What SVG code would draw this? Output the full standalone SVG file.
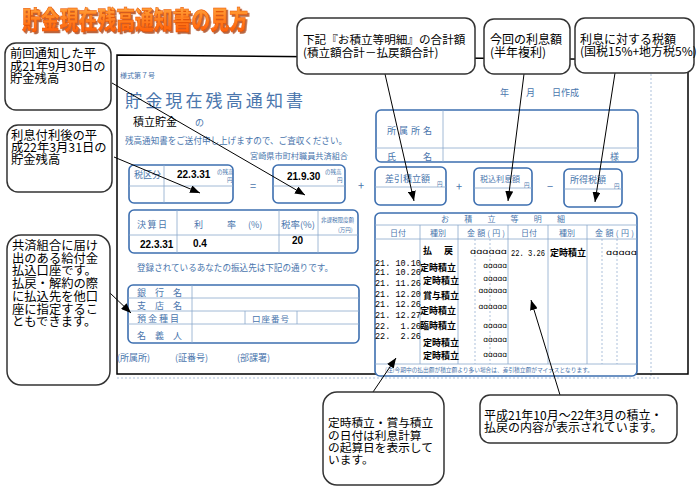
<svg xmlns="http://www.w3.org/2000/svg" width="700" height="489" viewBox="0 0 700 489">
<defs>
  <linearGradient id="tg" x1="0" y1="0" x2="0" y2="1">
    <stop offset="0" stop-color="#ffb347"/>
    <stop offset="1" stop-color="#ff5500"/>
  </linearGradient>
  <filter id="sh" x="-5%" y="-20%" width="115%" height="150%">
    <feDropShadow dx="1.8" dy="2" stdDeviation="0.6" flood-color="#a03000" flood-opacity="0.75"/>
  </filter>
  <marker id="ah" viewBox="0 0 10 8" refX="10" refY="4" markerWidth="10" markerHeight="8" markerUnits="userSpaceOnUse" orient="auto">
    <path d="M0,0 L10,4 L0,8 z" fill="#000"/>
  </marker>
</defs>
<style>
  .jp { font-family: "Noto Sans CJK JP", "Noto Sans", sans-serif; }
  .co rect { fill: #fff; stroke: #333; stroke-width: 1.5; }
  .co text { font-family: "Noto Sans CJK JP", sans-serif; font-size: 12.3px; fill: #000; }
  .fb { fill: #fff; stroke: #3d6fb0; stroke-width: 1.6; }
  .fl { stroke: #8aa8cc; stroke-width: 0.8; fill: none; }
  .fd { stroke: #8aa8cc; stroke-width: 0.7; stroke-dasharray: 2 2; fill: none; }
  .ft { font-family: "Noto Sans CJK JP", sans-serif; fill: #4a76ad; }
  .bk { font-family: "Liberation Sans", Arial, sans-serif; font-weight: bold; fill: #000; }
  .dk { font-family: "Noto Sans CJK JP", sans-serif; fill: #000; font-size: 9px; font-weight: bold; }
  .mn { font-family: "Liberation Mono", monospace; fill: #000; font-size: 8.5px; white-space: pre; }
  .am { font-family: "DejaVu Sans", sans-serif; fill: #000; font-size: 7.5px; }
  .cn line { stroke: #000; stroke-width: 1; marker-end: url(#ah); }
</style>

<!-- title -->
<g id="title">
  <text x="22" y="29" class="jp" font-size="25" font-weight="900" fill="url(#tg)" stroke="#e85000" stroke-width="0.5" filter="url(#sh)" textLength="226" lengthAdjust="spacingAndGlyphs">貯金現在残高通知書の見方</text>
</g>

<!-- form -->
<g id="form">
  <line x1="651" y1="62" x2="651" y2="377" class="fd"/>
  <line x1="117" y1="378" x2="660" y2="378" class="fd"/>
  <path d="M117,55 L688,60 L688,374 L117,374 Z" fill="none" stroke="#000" stroke-width="1.5"/>

  <text x="120" y="78" class="ft" font-size="7">様式第７号</text>
  <text x="125" y="107" class="ft" font-size="17" fill="#3a6aa8" textLength="178" lengthAdjust="spacing">貯金現在残高通知書</text>
  <text x="133" y="126" class="jp" font-size="11" fill="#000">積立貯金</text>
  <text x="195" y="126" class="ft" font-size="9">の</text>
  <text x="125" y="144" class="ft" font-size="9" textLength="222" lengthAdjust="spacingAndGlyphs">残高通知書をご送付申し上げますので、ご査収ください。</text>
  <text x="250" y="159" class="ft" font-size="8" textLength="98" lengthAdjust="spacingAndGlyphs">宮崎県市町村職員共済組合</text>
  <text x="500" y="96" class="ft" font-size="9">年</text>
  <text x="526" y="96" class="ft" font-size="9">月</text>
  <text x="552" y="96" class="ft" font-size="9">日作成</text>

  <g id="name-box">
    <rect x="376" y="110" width="262" height="52" rx="5" class="fb"/>
    <line x1="443" y1="110" x2="443" y2="162" class="fl"/>
    <line x1="376" y1="148" x2="638" y2="148" class="fl"/>
    <text x="387" y="134" class="ft" font-size="9" textLength="45" lengthAdjust="spacing">所属所名</text>
    <text x="387" y="160" class="ft" font-size="9">氏</text>
    <text x="423" y="160" class="ft" font-size="9">名</text>
    <text x="610" y="160" class="ft" font-size="9">様</text>
  </g>

  <g id="bal-now">
    <rect x="129" y="165" width="104" height="38" rx="5" class="fb"/>
    <line x1="164" y1="165" x2="164" y2="203" class="fl"/>
    <line x1="129" y1="186" x2="233" y2="186" class="fl"/>
    <text x="134" y="178" class="ft" font-size="9">税区分</text>
    <text x="177" y="178" class="bk" font-size="10">22.3.31</text>
    <text class="ft" font-size="5.5"><tspan x="217" y="174">の残高</tspan><tspan x="227" y="182">円</tspan></text>
  </g>
  <text x="250" y="190" class="ft" font-size="11">=</text>
  <g id="bal-prev">
    <rect x="273" y="165" width="72" height="38" rx="5" class="fb"/>
    <line x1="273" y1="186" x2="345" y2="186" class="fl"/>
    <text x="287" y="180" class="bk" font-size="10">21.9.30</text>
    <text class="ft" font-size="5.5"><tspan x="325" y="174">の残高</tspan><tspan x="337" y="182">円</tspan></text>
  </g>
  <text x="358" y="190" class="ft" font-size="11">+</text>
  <g id="net-deposit">
    <rect x="375" y="167" width="71" height="38" rx="5" class="fb"/>
    <line x1="375" y1="187" x2="446" y2="187" class="fl"/>
    <text class="ft" font-size="9"><tspan x="385" y="182">差引積立額</tspan><tspan x="437" y="186" font-size="5.5">円</tspan></text>
  </g>
  <text x="456" y="191" class="ft" font-size="11">+</text>
  <g id="interest">
    <rect x="474" y="168" width="58" height="37" rx="5" class="fb"/>
    <line x1="474" y1="188" x2="532" y2="188" class="fl"/>
    <text class="ft" font-size="8"><tspan x="480" y="182">税込利息額</tspan><tspan x="524" y="187" font-size="5.5">円</tspan></text>
  </g>
  <text x="547" y="191" class="ft" font-size="11">−</text>
  <g id="tax">
    <rect x="564" y="169" width="58" height="38" rx="5" class="fb"/>
    <line x1="564" y1="189" x2="622" y2="189" class="fl"/>
    <text class="ft" font-size="9"><tspan x="570" y="183">所得税額</tspan><tspan x="614" y="188" font-size="5.5">円</tspan></text>
  </g>

  <g id="rate-table">
    <rect x="129" y="210" width="229" height="43" rx="5" class="fb"/>
    <line x1="129" y1="235" x2="358" y2="235" class="fl"/>
    <line x1="177" y1="210" x2="177" y2="253" class="fl"/>
    <line x1="279" y1="210" x2="279" y2="253" class="fl"/>
    <line x1="318" y1="210" x2="318" y2="253" class="fl"/>
    <text x="137" y="228" class="ft" font-size="9" textLength="30" lengthAdjust="spacing">決算日</text>
    <text x="194" y="228" class="ft" font-size="9">利</text>
    <text x="227" y="228" class="ft" font-size="9">率</text>
    <text x="248" y="228" class="ft" font-size="9">(%)</text>
    <text x="281" y="228" class="ft" font-size="9" textLength="34" lengthAdjust="spacingAndGlyphs">税率(%)</text>
    <text class="ft" font-size="5.5"><tspan x="321" y="222">非課税限度額</tspan><tspan x="338" y="232">(万円)</tspan></text>
    <text x="140" y="248" class="bk" font-size="10">22.3.31</text>
    <text x="193" y="247" class="bk" font-size="10">0.4</text>
    <text x="292" y="244" class="bk" font-size="10">20</text>
  </g>

  <text x="137" y="271" class="ft" font-size="9" textLength="196" lengthAdjust="spacingAndGlyphs">登録されているあなたの振込先は下記の通りです。</text>

  <g id="bank-box">
    <rect x="128" y="285" width="231" height="58" rx="5" class="fb"/>
    <line x1="192" y1="285" x2="192" y2="343" class="fl"/>
    <line x1="128" y1="298" x2="359" y2="298" class="fl"/>
    <line x1="128" y1="311" x2="359" y2="311" class="fl"/>
    <line x1="128" y1="324" x2="359" y2="324" class="fl"/>
    <line x1="245" y1="311" x2="245" y2="324" class="fl"/>
    <line x1="297" y1="311" x2="297" y2="324" class="fl"/>
    <text class="ft" font-size="9"><tspan x="137" y="296">銀　行　名</tspan><tspan x="137" y="309">支　店　名</tspan><tspan x="137" y="322">預 金 種 目</tspan><tspan x="137" y="339">名　義　人</tspan></text>
    <text x="252" y="322" class="ft" font-size="8.5" textLength="37" lengthAdjust="spacing">口座番号</text>
  </g>

  <text x="117" y="361" class="ft" font-size="9">(所属所)</text>
  <text x="175" y="361" class="ft" font-size="9">(証番号)</text>
  <text x="237" y="361" class="ft" font-size="9">(部課署)</text>

  <g id="detail-table">
    <rect x="375" y="213" width="262" height="163" rx="5" class="fb"/>
    <line x1="375" y1="225" x2="637" y2="225" class="fl"/>
    <line x1="375" y1="239" x2="637" y2="239" class="fl"/>
    <line x1="375" y1="364" x2="637" y2="364" class="fl"/>
    <line x1="420" y1="225" x2="420" y2="364" class="fl"/>
    <line x1="458" y1="225" x2="458" y2="364" class="fl"/>
    <line x1="508" y1="225" x2="508" y2="364" class="fl"/>
    <line x1="548" y1="225" x2="548" y2="364" class="fl"/>
    <line x1="587" y1="225" x2="587" y2="364" class="fl"/>
    <line x1="475" y1="239" x2="475" y2="364" class="fd"/>
    <line x1="490" y1="239" x2="490" y2="364" class="fd"/>
    <line x1="602" y1="239" x2="602" y2="364" class="fd"/>
    <line x1="617" y1="239" x2="617" y2="364" class="fd"/>
    <text x="441" y="222" class="ft" font-size="8" textLength="124" lengthAdjust="spacing">お積立等明細</text>
    <text x="398" y="236" class="ft" font-size="8" text-anchor="middle">日付</text>
    <text x="438" y="236" class="ft" font-size="8" text-anchor="middle">種別</text>
    <text x="467" y="236" class="ft" font-size="8" textLength="38" lengthAdjust="spacing">金額(円)</text>
    <text x="529" y="236" class="ft" font-size="8" text-anchor="middle">日付</text>
    <text x="567" y="236" class="ft" font-size="8" text-anchor="middle">種別</text>
    <text x="595" y="236" class="ft" font-size="8" textLength="39" lengthAdjust="spacing">金額(円)</text>
    <text x="385" y="372" class="ft" font-size="5.8" textLength="208" lengthAdjust="spacingAndGlyphs">(注)今期中の払出額が積立額より多い場合は、差引積立額がマイナスとなります。</text>

    <text class="dk"><tspan x="423" y="254">払</tspan><tspan x="444" y="254">戻</tspan></text>
    <text x="507" y="254" class="am" text-anchor="end" textLength="37" lengthAdjust="spacingAndGlyphs">ɑɑɑɑɑɑ</text>
    <text x="511" y="256" class="mn" textLength="34" lengthAdjust="spacingAndGlyphs">22. 3.26</text>
    <text x="550" y="256" class="dk">定時積立</text>
    <text x="637" y="255" class="am" text-anchor="end" textLength="31" lengthAdjust="spacingAndGlyphs">ɑɑɑɑɑ</text>

    <text class="mn"><tspan x="375" y="266">21. 10.10</tspan><tspan x="375" y="275">21. 10.26</tspan><tspan x="375" y="286">21. 11.26</tspan><tspan x="375" y="297">21. 12.20</tspan><tspan x="375" y="307">21. 12.26</tspan><tspan x="375" y="318">21. 12.27</tspan><tspan x="375" y="329">22.  1.26</tspan><tspan x="375" y="339">22.  2.26</tspan></text>

    <text class="dk"><tspan x="420" y="271">定時積立</tspan><tspan x="423" y="284">定時積立</tspan><tspan x="423" y="299">賞与積立</tspan><tspan x="420" y="314">定時積立</tspan><tspan x="420" y="329">臨時積立</tspan><tspan x="423" y="346">定時積立</tspan><tspan x="423" y="359">定時積立</tspan></text>

    <text class="am" text-anchor="end"><tspan x="507" y="268">ɑɑɑɑɑ</tspan><tspan x="507" y="281">ɑɑɑɑɑ</tspan><tspan x="507" y="293">ɑɑɑɑɑɑ</tspan><tspan x="507" y="309">ɑɑɑɑɑɑ</tspan><tspan x="507" y="328">ɑɑɑɑɑ</tspan><tspan x="507" y="342">ɑɑɑɑɑ</tspan><tspan x="507" y="357">ɑɑɑɑɑ</tspan></text>
  </g>
</g>

<!-- connectors -->
<g id="connectors" class="cn">
  <line x1="112" y1="83" x2="305" y2="195"/>
  <line x1="114" y1="157" x2="200" y2="193"/>
  <line x1="110" y1="293" x2="131" y2="313"/>
  <line x1="385" y1="74" x2="414" y2="201"/>
  <line x1="524" y1="74" x2="508" y2="201"/>
  <line x1="615" y1="73" x2="595" y2="202"/>
  <line x1="373" y1="392" x2="396" y2="358"/>
  <line x1="560" y1="395" x2="531" y2="300"/>
</g>

<!-- callouts -->
<g id="callout-prev" class="co">
  <rect x="5" y="43" width="106" height="67" rx="11"/>
  <text><tspan x="10" y="58">前回通知した平</tspan><tspan x="10" y="71">成21年9月30日の</tspan><tspan x="10" y="83">貯金残高</tspan></text>
</g>
<g id="callout-now" class="co">
  <rect x="7" y="125" width="105" height="67" rx="11"/>
  <text><tspan x="11" y="140">利息付利後の平</tspan><tspan x="11" y="152">成22年3月31日の</tspan><tspan x="11" y="164">貯金残高</tspan></text>
</g>
<g id="callout-bank" class="co">
  <rect x="7" y="235" width="103" height="150" rx="14"/>
  <text><tspan x="12" y="250">共済組合に届け</tspan><tspan x="12" y="263">出のある給付金</tspan><tspan x="12" y="275">払込口座です。</tspan><tspan x="12" y="288">払戻・解約の際</tspan><tspan x="12" y="301">に払込先を他口</tspan><tspan x="12" y="314">座に指定するこ</tspan><tspan x="12" y="326">ともできます。</tspan></text>
</g>
<g id="callout-total" class="co">
  <rect x="297" y="18" width="178" height="56" rx="10"/>
  <text style="font-size:11.6px"><tspan x="303" y="44">下記『お積立等明細』の合計額</tspan><tspan x="303" y="57">(積立額合計－払戻額合計)</tspan></text>
</g>
<g id="callout-interest" class="co">
  <rect x="484" y="19" width="86" height="55" rx="10"/>
  <text style="font-size:12px"><tspan x="490" y="44">今回の利息額</tspan><tspan x="490" y="57">(半年複利)</tspan></text>
</g>
<g id="callout-tax" class="co">
  <rect x="575" y="18" width="119" height="55" rx="10"/>
  <text style="font-size:12px"><tspan x="580" y="44">利息に対する税額</tspan><tspan x="580" y="56">(国税15%+地方税5%)</tspan></text>
</g>
<g id="callout-date" class="co">
  <rect x="323" y="392" width="121" height="93" rx="14"/>
  <text style="font-size:11.7px"><tspan x="328" y="427">定時積立・賞与積立</tspan><tspan x="328" y="440">の日付は利息計算</tspan><tspan x="328" y="452">の起算日を表示して</tspan><tspan x="328" y="464">います。</tspan></text>
</g>
<g id="callout-period" class="co">
  <rect x="480" y="395" width="197" height="48" rx="10"/>
  <text style="font-size:12px"><tspan x="484" y="420">平成21年10月～22年3月の積立・</tspan><tspan x="484" y="432">払戻の内容が表示されています。</tspan></text>
</g>
</svg>
